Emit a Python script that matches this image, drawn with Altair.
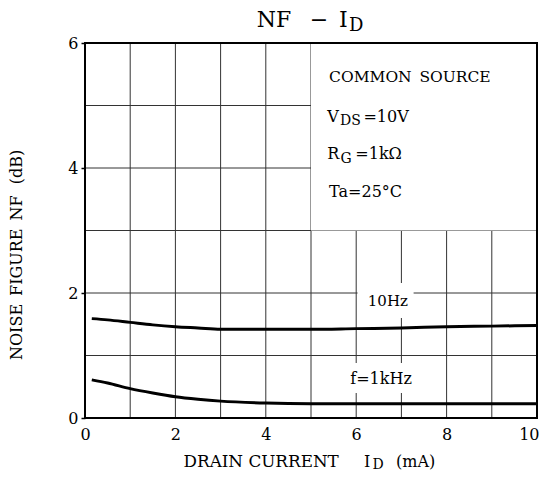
import altair as alt
import pandas as pd

# ---- data ----
drain_current = [0.15, 0.5, 1, 1.5, 2, 2.5, 3, 4, 5, 6, 7, 8, 9, 10]
nf_10hz = [1.59, 1.57, 1.53, 1.49, 1.46, 1.44, 1.42, 1.42, 1.42, 1.43, 1.44, 1.46, 1.47, 1.48]
nf_1khz = [0.61, 0.56, 0.47, 0.40, 0.34, 0.30, 0.27, 0.24, 0.23, 0.23, 0.23, 0.23, 0.23, 0.23]
x_ticks = [0, 2, 4, 6, 8, 10]
y_ticks = [0, 2, 4, 6]
x_grid = [1, 2, 3, 4, 5, 6, 7, 8, 9]
y_grid = [1, 2, 3, 4, 5]

FONT = "DejaVu Serif"
SP = "\u2002"

curves = pd.DataFrame(
    {"id": drain_current * 2,
     "nf": nf_10hz + nf_1khz,
     "f": ["10Hz"] * len(drain_current) + ["1kHz"] * len(drain_current)}
)

# ---- annotation layout (data units) ----
boxes = pd.DataFrame([
    {"x": 5.0, "x2": 10.0, "y": 3.0, "y2": 6.0},
    {"x": 6.03, "x2": 7.27, "y": 1.6, "y2": 2.16},
    {"x": 5.85, "x2": 7.35, "y": 0.4, "y2": 0.88},
])

left_texts = pd.DataFrame([
    # title
    {"t": "NF", "x": 3.80, "y": 6.256, "s": 22},
    {"t": "\u2212", "x": 4.97, "y": 6.256, "s": 22},
    {"t": "I", "x": 5.62, "y": 6.256, "s": 22},
    {"t": "D", "x": 5.84, "y": 6.19, "s": 18},
    # conditions
    {"t": "COMMON" + SP + "SOURCE", "x": 5.40, "y": 5.376, "s": 15.5},
    {"t": "V", "x": 5.36, "y": 4.74, "s": 16},
    {"t": "DS", "x": 5.64, "y": 4.685, "s": 14},
    {"t": "=10V", "x": 6.16, "y": 4.74, "s": 16},
    {"t": "R", "x": 5.36, "y": 4.144, "s": 16},
    {"t": "G", "x": 5.65, "y": 4.08, "s": 14},
    {"t": "=1k\u03a9", "x": 5.98, "y": 4.144, "s": 16},
    {"t": "Ta=25\u00b0C", "x": 5.40, "y": 3.536, "s": 16},
    # x axis title
    {"t": "DRAIN CURRENT", "x": 2.18, "y": -0.78, "s": 16.8},
    {"t": "I", "x": 6.17, "y": -0.78, "s": 16},
    {"t": "D", "x": 6.36, "y": -0.82, "s": 14},
    {"t": "(mA)", "x": 6.88, "y": -0.78, "s": 16},
])

center_texts = pd.DataFrame([
    {"t": "10Hz", "x": 6.7, "y": 1.87, "s": 15},
    {"t": "f=1kHz", "x": 6.55, "y": 0.62, "s": 16},
])

ytitle = pd.DataFrame([{"t": "NOISE" + SP + "FIGURE" + SP + "NF" + SP + "\u2009(dB)",
                        "x": -1.51, "y": 2.61, "s": 16}])

xs = alt.Scale(domain=[0, 10], nice=False, zero=False)
ys = alt.Scale(domain=[0, 6], nice=False, zero=False)

base_axes = alt.Chart(curves).mark_line(opacity=0).encode(
    x=alt.X("id:Q", scale=xs,
            axis=alt.Axis(values=x_ticks, grid=False, ticks=False, domain=False, format="d",
                          labelFont=FONT, labelFontSize=16, labelColor="black",
                          labelAlign={"condition": {"test": "datum.value == 10", "value": "right"},
                                      "value": "center"},
                          labelOffset={"condition": {"test": "datum.value == 10", "value": 2},
                                       "value": 0},
                          labelPadding=8, title=None, labelFlush=False)),
    y=alt.Y("nf:Q", scale=ys,
            axis=alt.Axis(values=y_ticks, grid=False, tickSize=4, tickColor="black",
                          tickWidth=1.5, domain=False, format="d",
                          labelFont=FONT, labelFontSize=16, labelColor="black",
                          labelPadding=3, title=None, labelFlush=False)),
)

vgrid = alt.Chart(pd.DataFrame({"g": x_grid})).mark_rule(color="#333", strokeWidth=1).encode(
    x=alt.X("g:Q", scale=xs), y=alt.value(0), y2=alt.value(375))
hgrid = alt.Chart(pd.DataFrame({"g": y_grid})).mark_rule(color="#333", strokeWidth=1).encode(
    y=alt.Y("g:Q", scale=ys), x=alt.value(0), x2=alt.value(452))

white = alt.Chart(boxes).mark_rect(fill="white").encode(
    x=alt.X("x:Q", scale=xs), x2="x2", y=alt.Y("y:Q", scale=ys), y2="y2")

lines = alt.Chart(curves).mark_line(color="black", strokeWidth=3, interpolate="monotone").encode(
    x=alt.X("id:Q", scale=xs), y=alt.Y("nf:Q", scale=ys), detail="f:N")

frame = alt.Chart(pd.DataFrame({"a": [0]})).mark_rect(
    fill=None, fillOpacity=0, stroke="black", strokeWidth=2).encode(
    x=alt.value(0), x2=alt.value(452), y=alt.value(0), y2=alt.value(375))

lt = alt.Chart(left_texts).mark_text(font=FONT, align="left", baseline="alphabetic",
                                     color="black").encode(
    x=alt.X("x:Q", scale=xs), y=alt.Y("y:Q", scale=ys), text="t:N",
    size=alt.Size("s:Q", scale=None, legend=None))

ct = alt.Chart(center_texts).mark_text(font=FONT, align="center", baseline="middle",
                                       color="black").encode(
    x=alt.X("x:Q", scale=xs), y=alt.Y("y:Q", scale=ys), text="t:N",
    size=alt.Size("s:Q", scale=None, legend=None))

yt = alt.Chart(ytitle).mark_text(font=FONT, align="center", baseline="middle",
                                 angle=270, color="black").encode(
    x=alt.X("x:Q", scale=xs), y=alt.Y("y:Q", scale=ys), text="t:N",
    size=alt.Size("s:Q", scale=None, legend=None))

chart = alt.layer(base_axes, vgrid, hgrid, white, lines, frame, lt, ct, yt).properties(
    width=452, height=375,
    autosize=alt.AutoSizeParams(type="none"),
    padding={"left": 77, "top": 35, "right": 2, "bottom": 55},
).configure_view(stroke=None).configure(background="white")

chart.save("out.html", embed_options={"renderer": "svg", "actions": False})
